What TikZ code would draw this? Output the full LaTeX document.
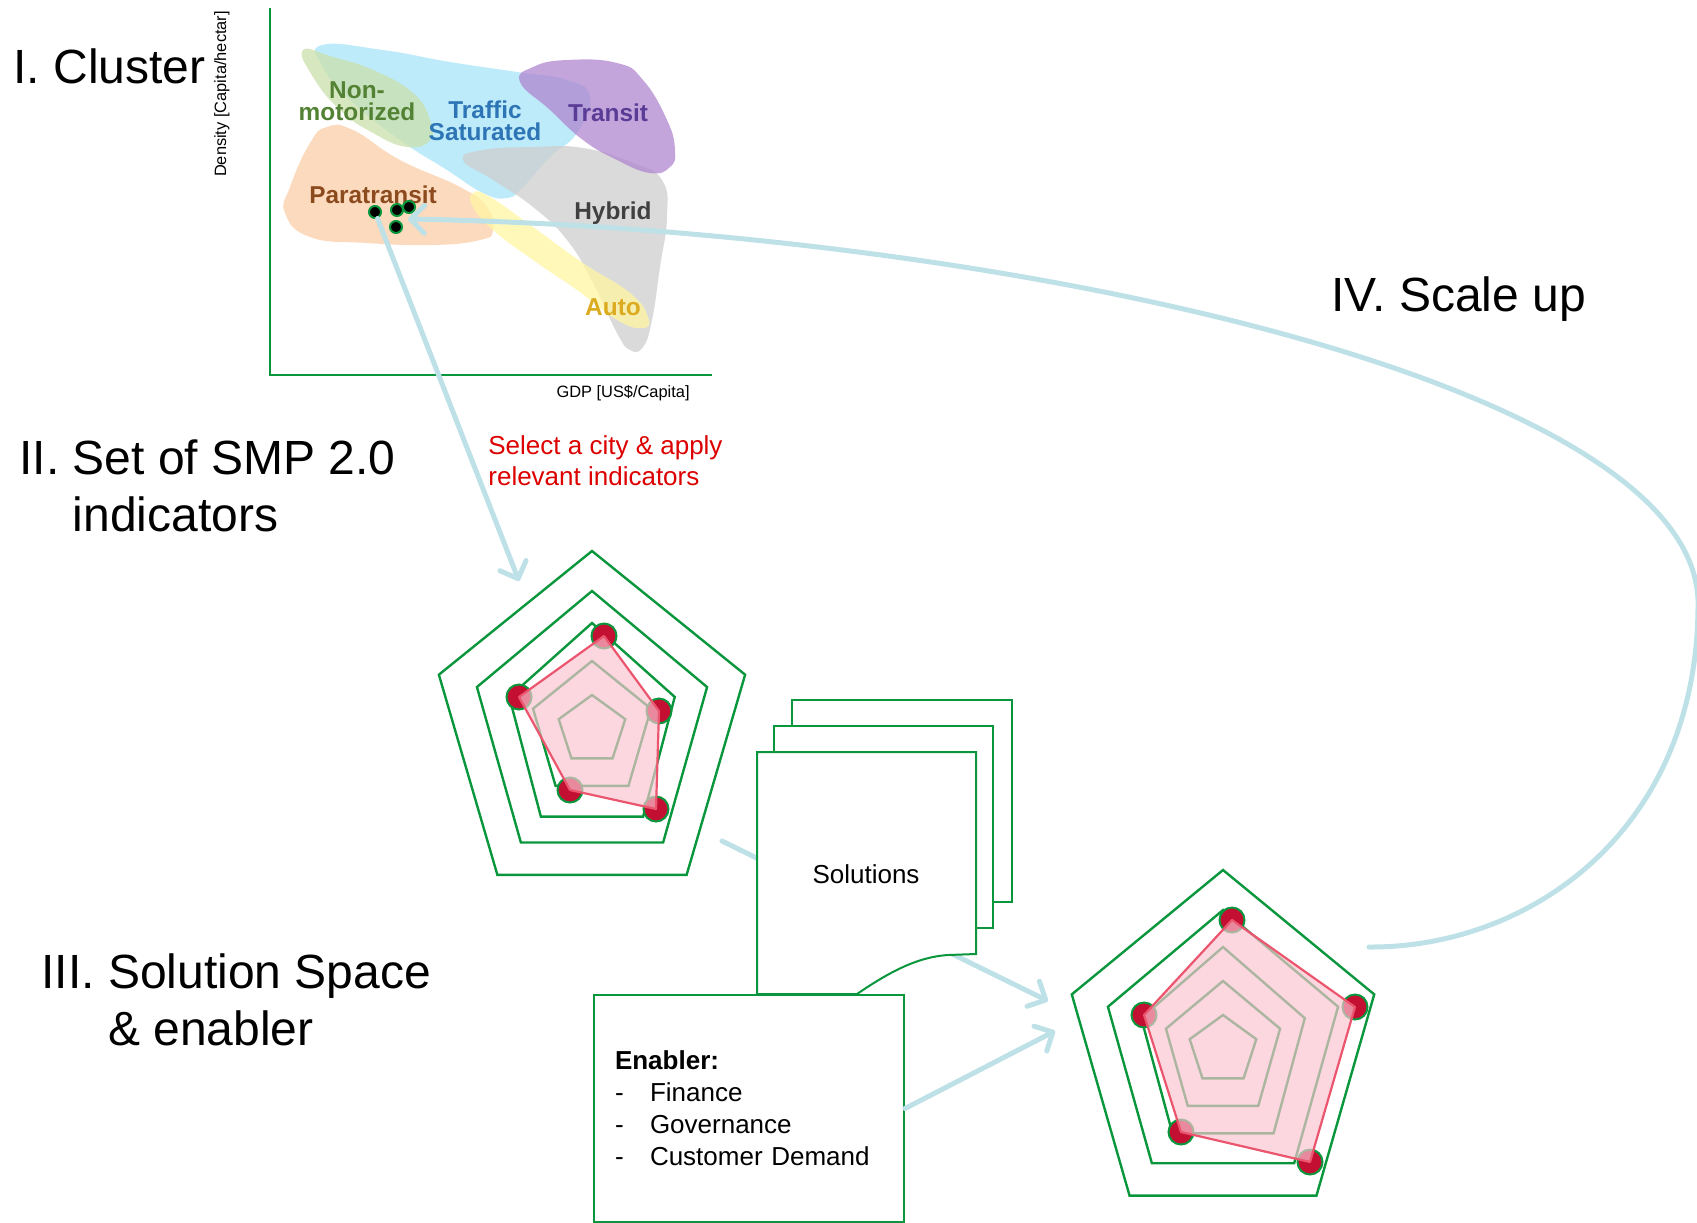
\documentclass[tikz,border=0pt]{standalone}
\usepackage{fontspec}
\setmainfont{Liberation Sans}
\usetikzlibrary{arrows.meta}

\definecolor{flowblue}{RGB}{189,225,230}
\definecolor{ringgreen}{RGB}{10,150,60}
\definecolor{dotred}{RGB}{195,15,50}
\definecolor{datared}{RGB}{235,85,110}
\definecolor{datafill}{RGB}{250,196,208}
\definecolor{selred}{RGB}{220,0,0}
\definecolor{trafficblue}{RGB}{168,228,248}
\definecolor{nonmotgreen}{RGB}{202,224,171}
\definecolor{parapeach}{RGB}{251,206,168}
\definecolor{hybridgrey}{RGB}{206,206,206}
\definecolor{transitpurple}{RGB}{175,135,208}
\definecolor{autoyellow}{RGB}{255,246,162}

% stretched pentagon, x radius #1, y radius #2
\newcommand{\pent}[2]{({#1*cos(90)},{-#2*sin(90)}) -- ({#1*cos(162)},{-#2*sin(162)}) -- ({#1*cos(234)},{-#2*sin(234)}) -- ({#1*cos(306)},{-#2*sin(306)}) -- ({#1*cos(18)},{-#2*sin(18)}) -- cycle}

\begin{document}
\begin{tikzpicture}[x=0.5pt, y=-0.5pt,
    title/.style={anchor=base west, inner sep=0pt, align=left, font=\fontsize{24}{28.5}\selectfont},
    flow/.style={draw=flowblue, line width=2.5pt, line cap=round, -{Straight Barb[length=7pt,width=14pt,round]}},
    ring/.style={draw=ringgreen, line width=1.2pt},
    datapoly/.style={fill=datafill, fill opacity=0.68, draw=datared, line width=1.1pt, line join=round},
    score/.style={circle, fill=dotred, draw=ringgreen, line width=1pt, minimum size=12.5pt, inner sep=0pt},
    city/.style={circle, fill=black, draw=ringgreen, line width=1pt, minimum size=6pt, inner sep=0pt},
    blob/.style={fill opacity=0.75},
    cname/.style={inner sep=0pt, align=center, font=\fontsize{12.2}{11}\selectfont\bfseries},
    axislab/.style={inner sep=0pt, font=\fontsize{8.2}{10}\selectfont},
    doc/.style={draw=ringgreen, fill=white, line width=1pt}]

    \useasboundingbox (0,0) rectangle (1697,1222);

    % Cluster chart
    \fill[blob, fill=trafficblue] plot[smooth cycle, tension=0.8] coordinates {(322,45) (383,50) (450,62) (517,72) (567,80) (590,97) (577,133) (550,157) (523,187) (507,198) (483,193) (447,170) (400,140) (350,100) (323,67)};
    \fill[blob, fill=nonmotgreen] plot[smooth cycle, tension=0.8] coordinates {(303,50) (333,57) (373,70) (413,93) (430,120) (430,140) (407,147) (373,133) (340,110) (313,77)};
    \fill[blob, fill=parapeach] plot[smooth cycle, tension=0.8] coordinates {(285,213) (290,187) (310,143) (327,127) (353,130) (400,160) (460,187) (487,207) (493,230) (480,240) (433,245) (367,243) (310,237)};
    \fill[blob, fill=hybridgrey] plot[smooth cycle, tension=0.8] coordinates {(463,160) (483,150) (533,147) (583,148) (633,163) (662,180) (667,217) (660,267) (652,320) (643,347) (630,350) (617,333) (593,283) (567,240) (533,207) (493,180)};
    \fill[blob, fill=autoyellow] plot[smooth cycle, tension=0.8] coordinates {(473,193) (490,197) (533,227) (583,263) (630,293) (648,317) (643,328) (617,320) (577,290) (533,260) (493,230) (473,207)};
    \fill[blob, fill=transitpurple] plot[smooth cycle, tension=0.8] coordinates {(520,82) (533,67) (567,60) (617,63) (643,80) (667,120) (675,150) (670,167) (650,173) (617,160) (583,140) (550,110)};

    \node[cname, text={rgb,255:red,84;green,130;blue,53}] (nonmot) at (357,101) {Non-\\motorized};
    \node[cname, text={rgb,255:red,46;green,117;blue,182}, font=\fontsize{12.2}{10.8}\selectfont\bfseries] (traffic) at (485,121) {Traffic\\Saturated};
    \node[cname, text={rgb,255:red,90;green,60;blue,150}] (transit) at (608,113) {Transit};
    \node[cname, text={rgb,255:red,140;green,75;blue,30}] (para) at (373,195) {Paratransit};
    \node[cname, text={rgb,255:red,64;green,64;blue,64}] (hybrid) at (613,213) {Hybrid};
    \node[cname, text={rgb,255:red,220;green,170;blue,30}] (auto) at (613,307) {Auto};

    \draw[ringgreen, line width=1.1pt] (270,8) -- (270,375) -- (712,375);
    \node[axislab, anchor=base east] (xlab) at (690,397) {GDP [US\$/Capita]};
    \node[axislab, rotate=90] (ylab) at (222,94) {Density [Capita/hectar]};

    \node[city] (d1) at (375,212) {};
    \node[city] (d2) at (397,210) {};
    \node[city] (d3) at (409,207) {};
    \node[city] (d4) at (396,227) {};

    % Titles (base = last line)
    \node[title] (t1) at (13,83) {I. Cluster};
    \node[title] (t2) at (19,531) {II. Set of SMP 2.0\\\hphantom{II. }indicators};
    \node[title] (t3) at (41,1045) {III. Solution Space\\\hphantom{III. }\& enabler};
    \node[title] (t4) at (1331,311) {IV. Scale up};
    \node[anchor=base west, inner sep=0pt, align=left, text=selred, font=\fontsize{13}{15.5}\selectfont] (hint) at (488,485) {Select a city \& apply\\relevant indicators};

    % Radar of the selected city
    \coordinate (r1) at (592,730);
    \foreach \rx/\ry in {161/179,121/139,87/107,62/69,35/35}
        \draw[ring, shift={(r1)}] \pent{\rx}{\ry};
    \node[score] (a1) at (604,636) {};
    \node[score] (a2) at (659,711) {};
    \node[score] (a3) at (656,809) {};
    \node[score] (a4) at (570,790) {};
    \node[score] (a5) at (519,697) {};
    \draw[datapoly] (a1.center) -- (a2.center) -- (a3.center) -- (a4.center) -- (a5.center) -- cycle;

    % Radar after solutions
    \coordinate (r2) at (1223,1050);
    \foreach \rx/\ry in {159/180,121/140,86/103,60/69,35/35}
        \draw[ring, shift={(r2)}] \pent{\rx}{\ry};
    \node[score] (b1) at (1232,920) {};
    \node[score] (b2) at (1355,1007) {};
    \node[score] (b3) at (1310,1162) {};
    \node[score] (b4) at (1181,1132) {};
    \node[score] (b5) at (1144,1015) {};
    \draw[datapoly] (b1.center) -- (b2.center) -- (b3.center) -- (b4.center) -- (b5.center) -- cycle;

    % Connectors
    \coordinate (r1in) at (519,581);
    \coordinate (r1out) at (722,841);
    \coordinate (r2inA) at (1048,1001);
    \coordinate (r2inB) at (1055,1031);
    \coordinate (r2out) at (1369,947);
    \coordinate (clin) at (408,219);
    \draw[flow] (d1) -- (r1in);
    \draw[flow] (r1out) -- (r2inA);
    \draw[flow] (r2out) .. controls (1530,948) and (1700,830) .. (1698,600)
        .. controls (1690,380) and (1000,230) .. (clin);

    % Solution sheets and enabler
    \draw[doc] (792,700) rectangle (1012,902);
    \draw[doc] (774,726) rectangle (993,928);
    \draw[doc] (757,994) -- (757,752) -- (976,752) -- (976,954) -- (948,955)
        .. controls (915,957) and (885,975) .. (857,994) -- cycle;
    \node[font=\fontsize{13}{16}\selectfont] (sol) at (866,874) {Solutions};
    \node[draw=ringgreen, line width=1pt, fill=white, anchor=north west, minimum height=113.5pt,
        text width=134pt, inner xsep=10.5pt, align=left, font=\fontsize{13}{16}\selectfont] (enab) at (593,994)
        {\textbf{Enabler:}\\\makebox[17.5pt][l]{-}Finance\\\makebox[17.5pt][l]{-}Governance\\\makebox[17.5pt][l]{-}Customer Demand};
    \draw[flow] (enab.east) -- (r2inB);
\end{tikzpicture}
\end{document}
